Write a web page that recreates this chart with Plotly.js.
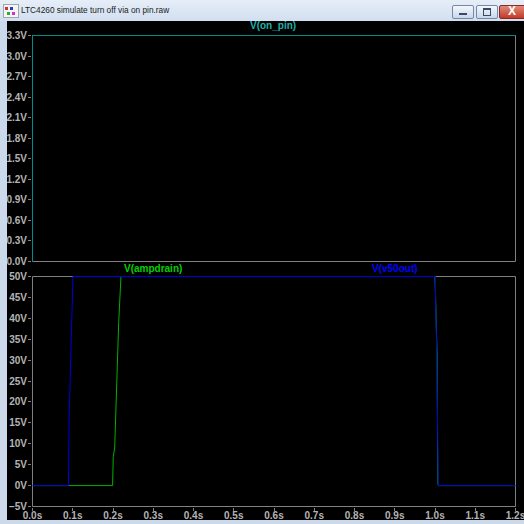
<!DOCTYPE html>
<html>
<head>
<meta charset="utf-8">
<script src="https://cdn.plot.ly/plotly-3.0.1.min.js"></script>
<style>
  html, body { margin:0; padding:0; width:524px; height:524px; overflow:hidden; background:#cbd9eb; }
  #titlebar { position:absolute; left:0; top:0; width:524px; height:21px;
    background:linear-gradient(#e6eef8, #d2dff0); }
  #ttl { position:absolute; left:21px; top:5px; font-family:"Liberation Sans", Arial, sans-serif; font-size:8.3px; color:#1a1a1a; white-space:nowrap; }
  #icon { position:absolute; left:3px; top:4px; width:14px; height:12px; background:#f4f4f4; border:1px solid #9aa; }
  #icon i { position:absolute; width:3px; height:3px; }
  .btn { position:absolute; top:5px; height:12px; border:1px solid #7489a8; border-radius:2px;
    background:linear-gradient(#f3f7fc, #c9d7ea); }
  #bmin { left:452px; width:20px; }
  #bmax { left:476px; width:20px; }
  #bcls { left:499px; width:26px; background:linear-gradient(#e08a78, #c23a2a); border-color:#8a2a20; }
  #plot { position:absolute; left:7px; top:21px; width:517px; height:499px; background:#000; }
</style>
</head>
<body>
<div id="titlebar">
  <div id="icon"><i style="left:1px;top:2px;background:#c33"></i><i style="left:6px;top:2px;background:#33c"></i><i style="left:3px;top:7px;background:#3a3"></i><i style="left:8px;top:7px;background:#c3c"></i></div>
  <div id="ttl">LTC4260 simulate turn off via on pin.raw</div>
  <div class="btn" id="bmin"><div style="position:absolute;left:6px;top:7px;width:8px;height:2px;background:#3a4a66"></div></div>
  <div class="btn" id="bmax"><div style="position:absolute;left:6px;top:2px;width:6px;height:5px;border:1px solid #3a4a66;border-top-width:2px"></div></div>
  <div class="btn" id="bcls"><div style="position:absolute;left:8px;top:-2px;color:#fff;font:bold 12px 'Liberation Sans',Arial,sans-serif">X</div></div>
</div>
<div id="plot"></div>
<script>
// ---- data ----
const tOnPin = [0, 0, 1.2];
const vOnPin = [0, 3.3, 3.3];

const tAmpdrain = [0, 0.199, 0.2007, 0.2042, 0.2141, 0.2198, 1.0, 1.0055, 1.0062, 1.0065, 1.0072, 1.0087, 1.2];
const vAmpdrain = [0, 0, 7, 9, 39, 50, 50, 30, 11, 5, 0.5, 0, 0];

const tV50out = [0, 0.0893, 0.0910, 0.0951, 0.1005, 1.0012, 1.0014, 1.0047, 1.0075, 1.008, 1.2];
const vV50out = [0, 0, 16, 33, 50, 50, 45, 30, 11, 0, 0];

const names = ["V(on_pin)", "V(ampdrain)", "V(v50out)"];
const xLim = [0, 1.2], yTopLim = [0, 3.3], yBotLim = [-5, 50];

// ---- pixel geometry (div coordinates) ----
const W = 517, H = 499;
const M = {l: 25, r: 8, t: 14, b: 13};
const PW = W - M.l - M.r, PH = H - M.t - M.b;
const topPane = [14, 241];   // top/bottom px of upper pane
const botPane = [255, 486];  // top/bottom px of lower pane
function dy(y) { return (H - M.b - y) / PH; }        // div px -> paper y
function pageY(y) { return dy(y - 21); }             // page px -> paper y

const topDom = [dy(topPane[1]), dy(topPane[0])];
const botDom = [dy(botPane[1]), dy(botPane[0])];
const topH = topPane[1] - topPane[0], botH = botPane[1] - botPane[0];

// pad a range by half a pixel on each side so edge values sit on the inner pixel row
function halfPx(lim, px) {
  const span = (lim[1] - lim[0]) / (1 - 1 / px);
  const pad = (span - (lim[1] - lim[0])) / 2;
  return [lim[0] - pad, lim[1] + pad];
}

const fam = "Liberation Sans, Arial, sans-serif";
const tickFont = {family: fam, size: 10, color: "#b4b4b4", weight: "bold"};
const axCommon = {
  showline: false, showgrid: false, zeroline: false, ticks: "outside", ticklen: 3,
  tickcolor: "#808080", tickwidth: 1, tickfont: tickFont, fixedrange: true,
  ticklabeloverflow: "allow"
};

const traces = [
  {x: tOnPin, y: vOnPin, xaxis: "x2", yaxis: "y", mode: "lines", name: names[0],
   line: {color: "#008c8c", width: 1}},
  {x: tAmpdrain, y: vAmpdrain, xaxis: "x", yaxis: "y2", mode: "lines", name: names[1],
   line: {color: "#00b000", width: 1}},
  {x: tV50out, y: vV50out, xaxis: "x", yaxis: "y2", mode: "lines", name: names[2],
   line: {color: "#0000d8", width: 1}}
];

function box(xr, yr, h) {
  return {type: "rect", xref: xr, yref: yr, layer: "below",
    x0: 0.5 / PW, x1: 1 - 0.5 / PW, y0: 0.5 / h, y1: 1 - 0.5 / h,
    line: {color: "#808080", width: 1}, fillcolor: "rgba(0,0,0,0)"};
}

const lblFont = c => ({family: fam, size: 10, color: c, weight: "bold"});

const layout = {
  width: W, height: H, margin: M,
  paper_bgcolor: "#000", plot_bgcolor: "rgba(0,0,0,0)", showlegend: false,
  xaxis: Object.assign({}, axCommon, {anchor: "y2", range: halfPx(xLim, PW), dtick: 0.1, tick0: 0,
    tickformat: ".1f", ticksuffix: "s", ticklabelstandoff: -4}),
  xaxis2: Object.assign({}, axCommon, {anchor: "y", matches: "x", dtick: 0.1,
    showticklabels: false, ticks: ""}),
  yaxis: Object.assign({}, axCommon, {domain: topDom, anchor: "x2", range: halfPx(yTopLim, topH), dtick: 0.3, tick0: 0,
    tickformat: ".1f", ticksuffix: "V", ticklabelstandoff: -1}),
  yaxis2: Object.assign({}, axCommon, {domain: botDom, anchor: "x", range: halfPx(yBotLim, botH), dtick: 5, tick0: 0,
    ticksuffix: "V", ticklabelstandoff: -1}),
  shapes: [box("x2 domain", "y domain", topH), box("x domain", "y2 domain", botH)],
  annotations: [
    {text: names[0], xref: "paper", yref: "paper", x: 0.498, y: pageY(26), xanchor: "center", yanchor: "middle",
     showarrow: false, font: lblFont("#1fb0a8")},
    {text: names[1], xref: "paper", yref: "paper", x: 0.25, y: pageY(268.3), xanchor: "center", yanchor: "middle",
     showarrow: false, font: lblFont("#00d000")},
    {text: names[2], xref: "paper", yref: "paper", x: 0.75, y: pageY(268.3), xanchor: "center", yanchor: "middle",
     showarrow: false, font: lblFont("#0000ff")}
  ]
};

Plotly.newPlot("plot", traces, layout, {displayModeBar: false, staticPlot: true});
</script>
</body>
</html>
